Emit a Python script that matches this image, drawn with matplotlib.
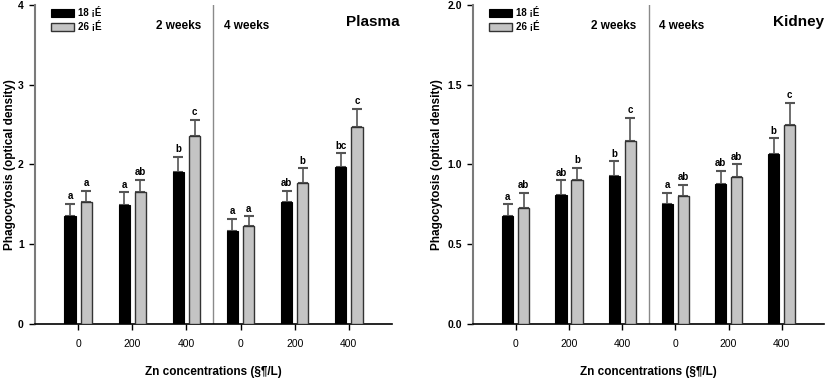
import matplotlib.pyplot as plt
import numpy as np

plt.rcParams['font.family'] = ['Liberation Sans', 'DejaVu Sans']

# x categories (Zn concentration), 2 weeks then 4 weeks
zn_labels = ["0", "200", "400", "0", "200", "400"]
temp_labels = ["18 \u00a1\u00c9", "26 \u00a1\u00c9"]

# Plasma
plasma_18 = [1.36, 1.49, 1.91, 1.16, 1.53, 1.97]
plasma_18_err = [0.15, 0.16, 0.19, 0.16, 0.14, 0.17]
plasma_26 = [1.53, 1.65, 2.36, 1.23, 1.77, 2.47]
plasma_26_err = [0.14, 0.16, 0.20, 0.12, 0.18, 0.23]
plasma_18_sig = ["a", "a", "b", "a", "ab", "bc"]
plasma_26_sig = ["a", "ab", "c", "a", "b", "c"]

# Kidney
kidney_18 = [0.675, 0.81, 0.925, 0.75, 0.875, 1.063]
kidney_18_err = [0.075, 0.09, 0.095, 0.07, 0.085, 0.10]
kidney_26 = [0.73, 0.905, 1.145, 0.80, 0.92, 1.25]
kidney_26_err = [0.09, 0.075, 0.145, 0.07, 0.08, 0.135]
kidney_18_sig = ["a", "ab", "b", "a", "ab", "b"]
kidney_26_sig = ["ab", "b", "c", "ab", "ab", "c"]


def draw_panel(ax, v18, e18, v26, e26, s18, s26, ymax, yticks, ytl, title, title_x, title_ha, ylab_x):
    x = np.arange(len(zn_labels))
    w = 0.21
    b1 = ax.bar(x - 0.15, v18, w, color='black', edgecolor='black', linewidth=0.8, zorder=3)
    b2 = ax.bar(x + 0.15, v26, w, color='#c4c4c4', edgecolor='#333333', linewidth=1.0, zorder=3)
    for xs, v, e in [(x - 0.15, v18, e18), (x + 0.15, v26, e26)]:
        ax.errorbar(xs, v, yerr=[np.zeros(len(v)), e], fmt='none', ecolor='#555555',
                    elinewidth=1.2, capsize=3.5, capthick=1.5, zorder=2)
    for xs, v, e, s in [(x - 0.15, v18, e18, s18), (x + 0.15, v26, e26, s26)]:
        for xi, vi, ei, si in zip(xs, v, e, s):
            ax.annotate(si, (xi, vi + ei), textcoords='offset points', xytext=(0, 2),
                        ha='center', va='bottom', fontsize=7, fontweight='bold')
    ax.axvline(2.5, color='#8a8a8a', linewidth=1.0, zorder=1)
    ax.set_xlim(-0.8, 5.8)
    ax.set_ylim(0, ymax)
    ax.set_xticks(x)
    ax.set_xticklabels(zn_labels, fontsize=7.5)
    ax.set_yticks(yticks)
    ax.set_yticklabels(ytl, fontsize=7.5, fontweight='bold')
    ax.tick_params(axis='x', direction='out', length=4, width=1, pad=7)
    ax.tick_params(axis='y', direction='out', length=4, width=1, pad=4)
    ax.spines['top'].set_visible(False)
    ax.spines['right'].set_visible(False)
    ax.spines['left'].set_color('#7a7a7a')
    ax.spines['left'].set_linewidth(1.5)
    ax.spines['bottom'].set_linewidth(1.2)
    ax.set_ylabel("Phagocytosis (optical density)", fontsize=8.5, fontweight='bold')
    ax.yaxis.set_label_coords(ylab_x, 0.5)
    ax.set_xlabel("Zn concentrations (\u00a7\u00b6/L)", fontsize=8.5, fontweight='bold', labelpad=12)
    ax.text(0.465, 0.935, "2 weeks", transform=ax.transAxes, ha='right', va='center',
            fontsize=8.5, fontweight='bold')
    ax.text(0.53, 0.935, "4 weeks", transform=ax.transAxes, ha='left', va='center',
            fontsize=8.5, fontweight='bold')
    ax.text(title_x, 0.948, title, transform=ax.transAxes, ha=title_ha, va='center',
            fontsize=11, fontweight='bold')
    ax.legend([b1, b2], temp_labels, loc='upper left', bbox_to_anchor=(0.02, 1.02),
              frameon=False, prop={'size': 7, 'weight': 'bold'}, handlelength=2.4,
              handleheight=0.9, labelspacing=0.3, handletextpad=0.4)


fig = plt.figure(figsize=(8.27, 3.78), dpi=100)
ax1 = fig.add_axes([0.0423, 0.1429, 0.4317, 0.8439])
ax2 = fig.add_axes([0.5723, 0.1429, 0.4244, 0.8439])

draw_panel(ax1, plasma_18, plasma_18_err, plasma_26, plasma_26_err,
           plasma_18_sig, plasma_26_sig, 4, [0, 1, 2, 3, 4],
           ["0", "1", "2", "3", "4"], "Plasma", 0.87, 'left', -0.052)
draw_panel(ax2, kidney_18, kidney_18_err, kidney_26, kidney_26_err,
           kidney_18_sig, kidney_26_sig, 2.0, [0, 0.5, 1.0, 1.5, 2.0],
           ["0.0", "0.5", "1.0", "1.5", "2.0"], "Kidney", 1.0, 'right', -0.085)

fig.savefig("out.png", dpi=100)
